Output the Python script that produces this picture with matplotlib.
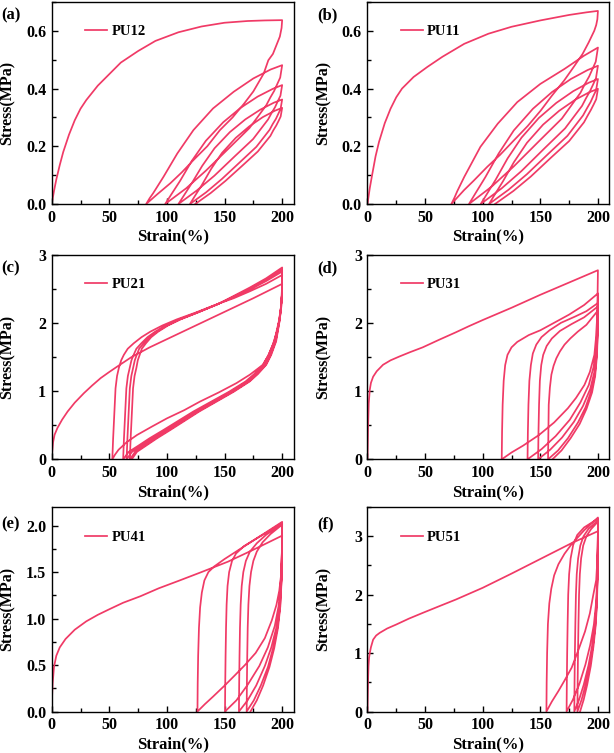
import matplotlib
matplotlib.use('Agg')
import matplotlib.pyplot as plt
from matplotlib.ticker import MultipleLocator, FormatStrFormatter

plt.rcParams['font.family'] = ['Liberation Serif', 'DejaVu Serif']
plt.rcParams['font.weight'] = 'bold'
plt.rcParams['axes.labelweight'] = 'bold'

line_color = '#F03A66'

samples = ['PU12', 'PU11', 'PU21', 'PU31', 'PU41', 'PU51']
panel_tags = ['(a)', '(b)', '(c)', '(d)', '(e)', '(f)']

# cyclic tensile curves (strain %, stress MPa)
# each list runs load1, unload1, reload2, unload2, ... in test order
pu12_strain = [
    0, 2, 4, 7, 10, 15, 20, 25, 30, 40, 50, 60, 75, 90, 110, 130, 150, 170, 185, 200,
    199.5, 198, 195, 192, 188, 184, 175, 167, 157, 146, 135, 123, 113, 103, 92, 82,
    85, 88, 97, 109, 123, 140, 158, 175, 190, 200,
    198.3, 195.7, 193.1, 189.6, 186.2, 171.6, 153.5, 133.7, 116.6, 98.5,
    103.6, 111.4, 121.7, 133.8, 148.8, 163.9, 178.7, 191.9, 200,
    198.5, 196.2, 193.9, 190.8, 187.8, 174.8, 158.8, 141.2, 126.0, 110,
    114.5, 121.4, 130.6, 141.3, 154.6, 168.0, 181.1, 192.8, 200,
    198.6, 196.6, 194.6, 191.8, 189.1, 177.6, 163.4, 147.8, 134.2, 120,
    124.0, 130.2, 138.3, 147.8, 159.7, 171.5, 183.2, 193.6, 200,
    198.7, 196.8, 194.9, 192.3, 189.8, 178.9, 165.5, 150.8, 138.0, 124.6]
pu12_stress = [
    0, 0.045, 0.085, 0.135, 0.18, 0.24, 0.29, 0.33, 0.36, 0.41, 0.45, 0.49, 0.53, 0.565, 0.595, 0.615, 0.628, 0.634, 0.636, 0.637,
    0.61, 0.58, 0.55, 0.52, 0.498, 0.452, 0.39, 0.348, 0.30, 0.256, 0.20, 0.152, 0.11, 0.072, 0.035, 0,
    0.02, 0.037, 0.094, 0.175, 0.256, 0.331, 0.389, 0.435, 0.466, 0.481,
    0.438, 0.415, 0.392, 0.368, 0.342, 0.263, 0.192, 0.115, 0.054, 0,
    0.032, 0.080, 0.150, 0.219, 0.283, 0.333, 0.372, 0.399, 0.412,
    0.375, 0.356, 0.336, 0.315, 0.293, 0.225, 0.165, 0.098, 0.047, 0,
    0.028, 0.071, 0.132, 0.193, 0.249, 0.293, 0.327, 0.351, 0.362,
    0.329, 0.312, 0.295, 0.277, 0.257, 0.198, 0.145, 0.087, 0.041, 0,
    0.026, 0.065, 0.121, 0.177, 0.229, 0.269, 0.301, 0.323, 0.333,
    0.303, 0.287, 0.272, 0.255, 0.236, 0.182, 0.133, 0.080, 0.038, 0]

pu11_strain = [
    0, 2, 4, 7, 10, 15, 20, 25, 30, 40, 52, 65, 84, 105, 125, 150, 175, 190, 200,
    199.5, 198.5, 196.8, 192, 186.7, 179, 170.7, 160, 150.4, 139, 127.2, 115, 104, 92, 83.8, 72.8,
    75.5, 78, 84, 98, 113, 130, 150, 171, 188, 200,
    198.1, 195.3, 192.4, 188.6, 184.8, 168.7, 148.7, 126.9, 108.0, 88.1,
    93.7, 102.3, 113.7, 127.0, 143.6, 160.2, 176.5, 191.0, 200,
    198.3, 195.7, 193.1, 189.6, 186.2, 171.5, 153.4, 133.6, 116.4, 98.3,
    103.4, 111.2, 121.6, 133.7, 148.7, 163.8, 178.6, 191.9, 200,
    198.4, 196.0, 193.6, 190.4, 187.1, 173.5, 156.7, 138.3, 122.3, 105.5,
    110.2, 117.5, 127.1, 138.4, 152.4, 166.4, 180.2, 192.4, 200,
    198.5, 196.2, 193.9, 190.9, 187.9, 175.0, 159.1, 141.7, 126.6, 110.7]
pu11_stress = [
    0, 0.055, 0.10, 0.165, 0.215, 0.28, 0.33, 0.37, 0.40, 0.44, 0.475, 0.51, 0.555, 0.59, 0.614, 0.636, 0.655, 0.664, 0.669,
    0.64, 0.62, 0.60, 0.56, 0.52, 0.475, 0.428, 0.375, 0.324, 0.27, 0.221, 0.17, 0.129, 0.08, 0.048, 0,
    0.022, 0.045, 0.094, 0.198, 0.278, 0.353, 0.416, 0.468, 0.514, 0.542,
    0.493, 0.468, 0.442, 0.415, 0.385, 0.296, 0.217, 0.130, 0.061, 0,
    0.037, 0.093, 0.174, 0.255, 0.330, 0.388, 0.433, 0.464, 0.479,
    0.436, 0.413, 0.391, 0.366, 0.340, 0.262, 0.192, 0.114, 0.054, 0,
    0.033, 0.084, 0.158, 0.230, 0.298, 0.350, 0.391, 0.420, 0.433,
    0.394, 0.374, 0.353, 0.331, 0.307, 0.236, 0.173, 0.103, 0.049, 0,
    0.031, 0.078, 0.145, 0.212, 0.275, 0.323, 0.361, 0.387, 0.399,
    0.363, 0.344, 0.326, 0.305, 0.283, 0.218, 0.160, 0.095, 0.045, 0]

pu21_strain = [
    0, 0.5, 1.2, 2.5, 5, 9, 13.8, 20, 28, 35, 42.5, 50, 57, 69, 85, 100, 125, 150, 175, 200,
    199.7, 198.5, 196, 191.9, 188, 183.3, 172, 160.3, 145, 128.7, 115, 100, 87, 74.1, 65, 58, 55, 52.6,
    53.3, 54, 55.4, 56.7, 58.3, 60.3, 62.6, 66, 71.2, 78, 85.6, 96, 108.6, 125, 143.1, 158, 171.8, 186, 200,
    199.7, 198.8, 197.1, 193.2, 188.2, 183.4, 175.8, 168.2, 153.9, 138.5, 122.9, 108.7, 97.0, 84.9, 75.2, 66.9, 62,
    62.7, 63.4, 64.8, 66.1, 67.7, 69.2, 71.1, 73.5, 77.8, 83.2, 89.8, 99, 110.7, 126.1, 143.6, 158, 171.8, 186, 200,
    199.7, 198.8, 197.3, 193.8, 189.1, 184.5, 177.1, 169.6, 155.5, 140.3, 124.9, 110.9, 99.4, 87.5, 77.9, 69.7, 65,
    65.7, 66.4, 67.8, 69.1, 70.7, 72.1, 73.8, 75.9, 79.9, 84.8, 91.2, 100, 111.3, 126.5, 143.7, 158, 171.8, 186, 200,
    199.7, 198.8, 197.6, 194.4, 190.0, 185.6, 178.3, 171.0, 157.1, 142.1, 126.8, 113.0, 101.6, 89.9, 80.5, 72.4, 67.8,
    68.5, 69.2, 70.6, 71.9, 73.5, 74.7, 76.3, 78.2, 81.8, 86.4, 92.4, 100.9, 111.9, 126.8, 143.9, 158, 171.8, 186, 200,
    199.7, 198.8, 197.7, 194.8, 190.5, 186.2, 179, 171.8, 158, 143.1, 128, 114.3, 103, 91.4, 82, 74, 69.5]
pu21_stress = [
    0, 0.12, 0.25, 0.36, 0.46, 0.58, 0.70, 0.83, 0.97, 1.08, 1.19, 1.28, 1.36, 1.495, 1.64, 1.76, 1.96, 2.16, 2.36, 2.57,
    2.3, 2.12, 1.9, 1.68, 1.52, 1.385, 1.24, 1.116, 0.98, 0.846, 0.72, 0.60, 0.48, 0.357, 0.25, 0.14, 0.07, 0,
    0.3, 0.55, 1.04, 1.22, 1.34, 1.45, 1.53, 1.62, 1.70, 1.79, 1.87, 1.96, 2.05, 2.15, 2.27, 2.36, 2.46, 2.57, 2.70,
    2.4, 2.2, 2.02, 1.73, 1.53, 1.385, 1.25, 1.14, 0.99, 0.846, 0.70, 0.552, 0.43, 0.308, 0.2, 0.11, 0,
    0.3, 0.55, 1.04, 1.22, 1.34, 1.45, 1.53, 1.62, 1.70, 1.79, 1.87, 1.96, 2.05, 2.15, 2.27, 2.375, 2.485, 2.61, 2.75,
    2.4, 2.2, 2.02, 1.73, 1.53, 1.385, 1.25, 1.14, 0.99, 0.846, 0.70, 0.552, 0.43, 0.308, 0.2, 0.11, 0,
    0.3, 0.55, 1.04, 1.22, 1.34, 1.45, 1.53, 1.62, 1.70, 1.79, 1.87, 1.96, 2.05, 2.15, 2.27, 2.384, 2.50, 2.63, 2.78,
    2.4, 2.2, 2.02, 1.73, 1.53, 1.385, 1.25, 1.14, 0.99, 0.846, 0.70, 0.552, 0.43, 0.308, 0.2, 0.11, 0,
    0.3, 0.55, 1.04, 1.22, 1.34, 1.45, 1.53, 1.62, 1.70, 1.79, 1.87, 1.96, 2.05, 2.15, 2.27, 2.393, 2.515, 2.65, 2.81,
    2.4, 2.2, 2.02, 1.73, 1.53, 1.385, 1.25, 1.14, 0.99, 0.846, 0.70, 0.552, 0.43, 0.308, 0.2, 0.11, 0]

pu31_strain = [
    0, 0.3, 0.6, 1.1, 2, 3, 4.9, 8, 13.5, 20, 27.8, 37, 47.9, 62, 76.6, 88, 100, 125, 150, 175, 200,
    199.6, 199.1, 198.3, 196.9, 193, 188.3, 181, 173.9, 162, 148.9, 135, 125, 116.5,
    116.8, 117.3, 118.2, 119.5, 121.5, 125, 130, 140, 150, 162, 175, 188, 200,
    199.7, 198.8, 196.3, 192.1, 184.7, 175.6, 163.3, 151.1, 138.9,
    139.2, 139.7, 140.5, 141.8, 143.5, 146.5, 151, 158, 168, 180, 190, 200,
    199.7, 199.0, 196.9, 193.3, 187.0, 179.2, 168.9, 158.5, 148.1,
    148.4, 148.9, 149.6, 150.8, 152.5, 155.5, 160, 167, 177, 188, 200,
    199.8, 199.1, 197.4, 194.4, 189.2, 182.7, 174.0, 165.4, 156.7,
    157, 157.3, 158.3, 159.6, 161.5, 163.9, 167, 171, 176, 182.5, 190, 200,
    199.8, 199.2, 197.6, 194.9, 190.1, 184.2, 176.3, 168.4, 160.5]
pu31_stress = [
    0, 0.25, 0.53, 0.82, 1.02, 1.12, 1.21, 1.29, 1.385, 1.45, 1.507, 1.57, 1.64, 1.75, 1.86, 1.95, 2.04, 2.22, 2.41, 2.59, 2.77,
    2.3, 2.02, 1.78, 1.53, 1.28, 1.09, 0.9, 0.748, 0.54, 0.357, 0.2, 0.1, 0,
    0.4, 0.8, 1.15, 1.38, 1.53, 1.64, 1.72, 1.82, 1.89, 2.0, 2.12, 2.26, 2.43,
    2.07, 1.70, 1.36, 1.09, 0.83, 0.58, 0.34, 0.15, 0,
    0.4, 0.8, 1.15, 1.38, 1.55, 1.68, 1.79, 1.89, 2.0, 2.09, 2.17, 2.29,
    1.95, 1.60, 1.28, 1.03, 0.78, 0.55, 0.32, 0.14, 0,
    0.4, 0.8, 1.15, 1.38, 1.53, 1.66, 1.77, 1.88, 1.98, 2.08, 2.24,
    1.90, 1.57, 1.25, 1.01, 0.76, 0.54, 0.31, 0.13, 0,
    0.4, 0.8, 1.05, 1.24, 1.37, 1.48, 1.58, 1.68, 1.77, 1.87, 1.97, 2.18,
    1.85, 1.53, 1.22, 0.98, 0.74, 0.52, 0.31, 0.13, 0]

pu41_strain = [
    0, 0.3, 0.8, 2, 4, 7, 12, 20, 30, 40, 50, 62, 77, 92.8, 110, 130, 153, 175, 200,
    199.6, 198.9, 197.5, 195, 191, 185, 177, 167.7, 159, 150.4, 140, 133, 126.5,
    126.7, 127.1, 127.8, 128.8, 130.3, 132.5, 136, 141, 150, 165, 180, 190, 200,
    199.8, 199.0, 197.0, 193.6, 187.6, 180.2, 170.2, 160.3, 150.4,
    150.6, 150.9, 151.3, 151.8, 152.6, 154, 156.5, 160, 167, 179, 190, 200,
    199.8, 199.3, 197.8, 195.1, 190.6, 185.0, 177.5, 170.0, 162.5,
    162.7, 163, 163.4, 164, 164.9, 166.3, 168.5, 172, 178, 186, 200,
    199.8, 199.4, 198.2, 196.0, 192.3, 187.7, 181.5, 175.4, 169.2,
    169.4, 169.7, 170.1, 170.7, 171.6, 173, 175, 178, 183, 190, 200,
    199.9, 199.5, 198.4, 196.4, 193.1, 189.0, 183.5, 178.0, 172.5]
pu41_stress = [
    0, 0.15, 0.3, 0.48, 0.6, 0.69, 0.78, 0.88, 0.97, 1.04, 1.1, 1.17, 1.24, 1.325, 1.405, 1.5, 1.612, 1.74, 1.892,
    1.6, 1.45, 1.3, 1.145, 0.98, 0.79, 0.63, 0.50, 0.39, 0.283, 0.16, 0.08, 0,
    0.3, 0.6, 0.9, 1.12, 1.28, 1.41, 1.5, 1.56, 1.64, 1.76, 1.88, 1.96, 2.04,
    1.73, 1.43, 1.14, 0.92, 0.69, 0.49, 0.29, 0.12, 0,
    0.3, 0.6, 0.9, 1.15, 1.35, 1.5, 1.62, 1.7, 1.78, 1.87, 1.95, 2.03,
    1.73, 1.42, 1.14, 0.91, 0.69, 0.49, 0.28, 0.12, 0,
    0.3, 0.6, 0.9, 1.15, 1.35, 1.5, 1.62, 1.72, 1.81, 1.9, 2.02,
    1.72, 1.41, 1.13, 0.91, 0.69, 0.48, 0.28, 0.12, 0,
    0.3, 0.6, 0.9, 1.15, 1.35, 1.5, 1.62, 1.72, 1.82, 1.91, 2.01,
    1.71, 1.41, 1.13, 0.90, 0.68, 0.48, 0.28, 0.12, 0]

pu51_strain = [
    0, 0.3, 0.6, 0.9, 1.4, 2, 3, 4.9, 7.5, 10.6, 17, 25, 36, 48.1, 62, 76.8, 100, 125, 150, 177, 200,
    199.5, 198.5, 196, 193, 188.8, 183, 177.2, 171, 165.7, 160, 155.3,
    155.5, 155.9, 156.6, 157.8, 159.5, 162, 165.7, 171, 177, 188, 200,
    199.9, 199.5, 198.4, 196.5, 193.2, 189.1, 183.7, 178.2, 172.8,
    173, 173.3, 173.7, 174.2, 175, 176.3, 178.5, 182, 188, 200,
    199.9, 199.6, 198.8, 197.3, 194.9, 191.8, 187.7, 183.6, 179.5,
    179.7, 180, 180.4, 180.9, 181.6, 182.8, 184.7, 187.5, 192, 200,
    199.9, 199.6, 198.9, 197.7, 195.6, 192.9, 189.3, 185.8, 182.2,
    182.4, 182.7, 183.1, 183.6, 184.3, 185.4, 187.2, 190, 194, 200,
    199.9, 199.7, 199.1, 198.0, 196.1, 193.8, 190.7, 187.6, 184.5]
pu51_stress = [
    0, 0.3, 0.6, 0.78, 0.92, 1.0, 1.1, 1.23, 1.30, 1.346, 1.42, 1.489, 1.59, 1.689, 1.80, 1.917, 2.117, 2.36, 2.61, 2.88, 3.086,
    2.6, 2.25, 2.0, 1.68, 1.37, 1.05, 0.75, 0.53, 0.35, 0.17, 0,
    0.5, 1.0, 1.5, 1.85, 2.1, 2.33, 2.52, 2.7, 2.86, 3.1, 3.32,
    2.82, 2.32, 1.86, 1.49, 1.13, 0.80, 0.46, 0.20, 0,
    0.5, 1.0, 1.5, 2.0, 2.35, 2.62, 2.85, 3.02, 3.15, 3.30,
    2.81, 2.31, 1.85, 1.49, 1.12, 0.79, 0.46, 0.20, 0,
    0.5, 1.0, 1.5, 2.0, 2.35, 2.62, 2.84, 3.0, 3.13, 3.27,
    2.78, 2.29, 1.83, 1.47, 1.11, 0.78, 0.46, 0.20, 0,
    0.5, 1.0, 1.5, 2.0, 2.35, 2.62, 2.84, 3.0, 3.12, 3.25,
    2.76, 2.28, 1.82, 1.46, 1.11, 0.78, 0.46, 0.20, 0]

strains = [pu12_strain, pu11_strain, pu21_strain, pu31_strain, pu41_strain, pu51_strain]
stresses = [pu12_stress, pu11_stress, pu21_stress, pu31_stress, pu41_stress, pu51_stress]

y_top = [0.7, 0.7, 3.0, 3.0, 2.2, 3.5]
y_major = [0.2, 0.2, 1, 1, 0.5, 1]
y_minor = [0.1, 0.1, 0.5, 0.5, 0.25, 0.5]
y_fmt = ['%.1f', '%.1f', '%d', '%d', '%.1f', '%d']

fig = plt.figure(figsize=(6.14, 7.53), dpi=100)

col_left = [0.0842, 0.5985]
row_bottom = [0.7291, 0.3900, 0.0551]
row_height = [0.2683, 0.2720, 0.2716]
tag_y = [0.980, 0.644, 0.304]

for i in range(6):
    r, c = i // 2, i % 2
    ax = fig.add_axes([col_left[c], row_bottom[r], 0.3941, row_height[r]])
    ax.plot(strains[i], stresses[i], color=line_color, lw=1.25, label=samples[i])
    ax.set_xlim(0, 210)
    ax.set_ylim(0, y_top[i])
    ax.xaxis.set_major_locator(MultipleLocator(50))
    ax.xaxis.set_minor_locator(MultipleLocator(25))
    ax.yaxis.set_major_locator(MultipleLocator(y_major[i]))
    ax.yaxis.set_minor_locator(MultipleLocator(y_minor[i]))
    ax.yaxis.set_major_formatter(FormatStrFormatter(y_fmt[i]))
    ax.tick_params(which='both', direction='in', top=False, right=False,
                   width=1.0, labelsize=11.5, pad=4)
    ax.tick_params(which='major', length=4)
    ax.tick_params(which='minor', length=3)
    for s in ax.spines.values():
        s.set_linewidth(1.0)
    ax.set_xlabel('Strain(%)', fontsize=12)
    ax.set_ylabel('Stress(MPa)', fontsize=11.5)
    ax.xaxis.set_label_coords(0.5, -0.12)
    ax.yaxis.set_label_coords(-0.15, 0.5)
    ax.legend(loc='center left', bbox_to_anchor=(0.138, 0.853), frameon=False,
              fontsize=10.5, handlelength=1.5, handletextpad=0.3,
              borderpad=0, borderaxespad=0)
    fig.text(0.002 + 0.514 * c, tag_y[r], panel_tags[i], fontsize=12,
             ha='left', va='center')

fig.savefig('out.png', dpi=100)
